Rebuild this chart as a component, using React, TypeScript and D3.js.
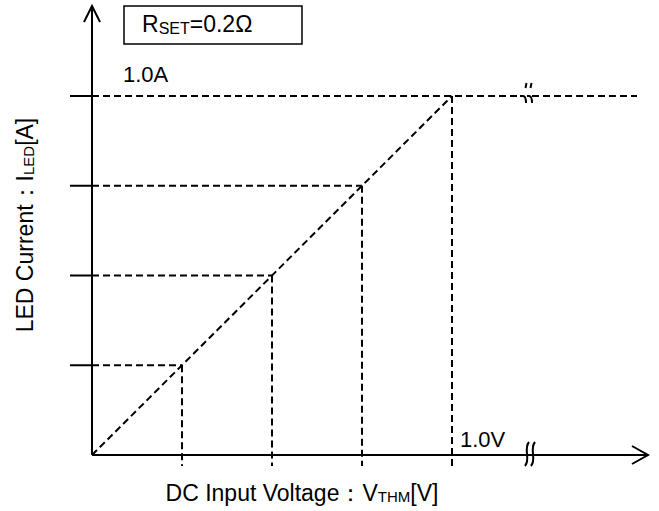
import React from "react";
import * as d3 from "d3";

const xLevels = [0.25, 0.5, 0.75, 1.0]; // V
const yLevels = [0.25, 0.5, 0.75, 1.0]; // A
const transferX = [0, 1.0];
const transferY = [0, 1.0];
const labelA = "1.0A";
const labelV = "1.0V";

export default function App() {
  const x = d3.scaleLinear().domain([0, 1]).range([92, 452]);
  const y = d3.scaleLinear().domain([0, 1]).range([455, 96]);
  const line = d3.line<number>().x((_, i) => x(transferX[i])).y((d) => y(d));
  const dash = "7,4";
  const sPath = (cx: number, top: number, bot: number) => {
    const h = bot - top;
    return `M ${cx + 2} ${top} C ${cx - 4} ${top + h * 0.3}, ${cx + 4} ${top + h * 0.7}, ${cx - 2} ${bot}`;
  };
  const yTop = y(1);
  return (
    <svg width={659} height={511} style={{ position: "absolute", left: 0, top: 0, background: "#fff" }} fontFamily="Liberation Sans, Arial, sans-serif">
      <rect x={0} y={0} width={659} height={511} fill="#fff" />
      {/* dashed guides */}
      {yLevels.map((v, i) => (
        <line key={"h" + i} x1={x(0)} x2={v === 1 ? 637 : x(xLevels[i])} y1={y(v)} y2={y(v)} stroke="#000" strokeWidth={2} strokeDasharray={dash} />
      ))}
      {xLevels.map((v, i) => (
        <line key={"v" + i} x1={x(v)} x2={x(v)} y1={y(yLevels[i])} y2={466} stroke="#000" strokeWidth={2} strokeDasharray={dash} />
      ))}
      <path d={line(transferY) || ""} stroke="#000" strokeWidth={2} strokeDasharray={dash} fill="none" />
      {/* y ticks */}
      {yLevels.map((v, i) => (
        <line key={"t" + i} x1={70} x2={x(0)} y1={y(v)} y2={y(v)} stroke="#000" strokeWidth={2} />
      ))}
      {/* axes */}
      <line x1={x(0)} x2={x(0)} y1={y(0)} y2={6} stroke="#000" strokeWidth={2} />
      <path d={`M ${x(0) - 8} 22 L ${x(0)} 6 L ${x(0) + 8} 22`} stroke="#000" strokeWidth={2} fill="none" />
      <line x1={x(0)} x2={648} y1={y(0)} y2={y(0)} stroke="#000" strokeWidth={2} />
      <path d={`M 632 446 L 648 455 L 632 464`} stroke="#000" strokeWidth={2} fill="none" />
      {/* top break */}
      <rect x={519} y={yTop - 3} width={17} height={6} fill="#fff" />
      <path d={`M 520 ${yTop} L 523 ${yTop} Q 526 ${yTop} 526 ${yTop + 7}`} stroke="#000" strokeWidth={2} fill="none" />
      <path d={`M 527 ${yTop} L 529 ${yTop} Q 532 ${yTop} 532 ${yTop + 7}`} stroke="#000" strokeWidth={2} fill="none" />
      <path d={`M 526.5 ${yTop - 13} L 525.5 ${yTop - 8}`} stroke="#000" strokeWidth={2} fill="none" />
      <path d={`M 531.5 ${yTop - 13} L 530.5 ${yTop - 8}`} stroke="#000" strokeWidth={2} fill="none" />
      <line x1={532} x2={538} y1={yTop} y2={yTop} stroke="#000" strokeWidth={2} />
      {/* x-axis break */}
      <path d={sPath(527, 442, 466)} stroke="#000" strokeWidth={2} fill="none" />
      <path d={sPath(533, 442, 466)} stroke="#000" strokeWidth={2} fill="none" />
      {/* labels */}
      <text x={123} y={82} fontSize={22}>{labelA}</text>
      <text x={460} y={447} fontSize={22}>{labelV}</text>
      <rect x={124} y={6} width={178} height={38} fill="#fff" stroke="#000" strokeWidth={1.5} />
      <text x={142} y={32} fontSize={23}>
        R<tspan fontSize={16} dy={2}>SET</tspan><tspan dy={-2}>=0.2Ω</tspan>
      </text>
      <text x={302} y={501} fontSize={23} textAnchor="middle">
        DC Input Voltage：V<tspan fontSize={15} dy={1}>THM</tspan><tspan dy={-1}>[V]</tspan>
      </text>
      <text transform="translate(33,225) rotate(-90)" fontSize={23} textAnchor="middle">
        LED Current：I<tspan fontSize={15} dy={1}>LED</tspan><tspan dy={-1}>[A]</tspan>
      </text>
    </svg>
  );
}
